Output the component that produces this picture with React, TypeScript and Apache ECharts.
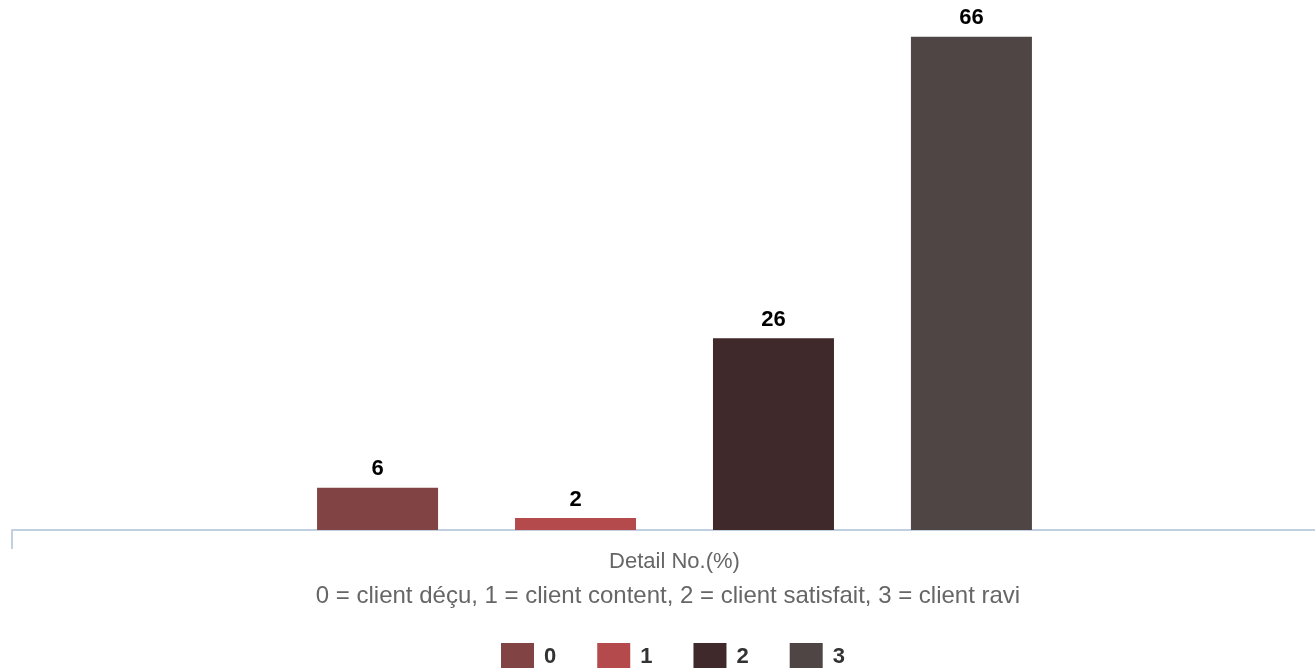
import React, { useEffect, useRef } from "react";
import * as echarts from "echarts";

const categories = ["Detail No.(%)"];
const seriesNames = ["0", "1", "2", "3"];
const seriesValues = [5.7, 1.6, 25.8, 66.4];
const seriesColors = ["#824345", "#b44a4b", "#40292a", "#4e4544"];
const subtitle = "0 = client déçu, 1 = client content, 2 = client satisfait, 3 = client ravi";

export default function App() {
  const ref = useRef<HTMLDivElement>(null);
  useEffect(() => {
    if (!ref.current) return;
    const chart = echarts.init(ref.current, null, { renderer: "svg" });
    const font = "'Liberation Sans', Arial, Helvetica, sans-serif";
    chart.setOption({
      animation: false,
      textStyle: { fontFamily: font },
      grid: { left: 12, right: -22, top: 10, bottom: 141, outerBoundsMode: "none" },
      xAxis: {
        type: "category",
        data: categories,
        axisLine: { show: true, lineStyle: { color: "#c0d0e0", width: 2 } },
        axisTick: { show: true, length: 19, lineStyle: { color: "#c0d0e0", width: 2 } },
        axisLabel: { color: "#666666", fontSize: 22, fontFamily: font, margin: 19 },
      },
      yAxis: {
        type: "value",
        min: 0,
        max: 70,
        show: false,
        splitLine: { show: false },
      },
      legend: {
        data: seriesNames,
        left: 496,
        top: 638,
        icon: "rect",
        itemWidth: 33,
        itemHeight: 25,
        itemGap: 41,
        textStyle: { color: "#333333", fontSize: 22, fontWeight: "bold", fontFamily: font, padding: [0, 0, 0, 5] },
      },
      graphic: [
        {
          type: "text",
          x: 668,
          y: 594,
          style: {
            text: subtitle,
            fill: "#666666",
            font: `24px ${font}`,
            textAlign: "center",
            textVerticalAlign: "middle",
          },
        },
      ],
      series: seriesNames.map((name, i) => ({
        name,
        type: "bar",
        data: [seriesValues[i]],
        barWidth: 121,
        barGap: "63.6%",
        itemStyle: { color: seriesColors[i] },
        label: {
          show: true,
          position: "top",
          distance: 9,
          color: "#000000",
          fontSize: 22,
          fontWeight: "bold",
          fontFamily: font,
          formatter: (p: any) => String(Math.round(p.value)),
        },
      })),
    });
    return () => chart.dispose();
  }, []);
  return (
    <div
      ref={ref}
      style={{ position: "fixed", left: 0, top: 0, width: 1315, height: 671 }}
    />
  );
}
